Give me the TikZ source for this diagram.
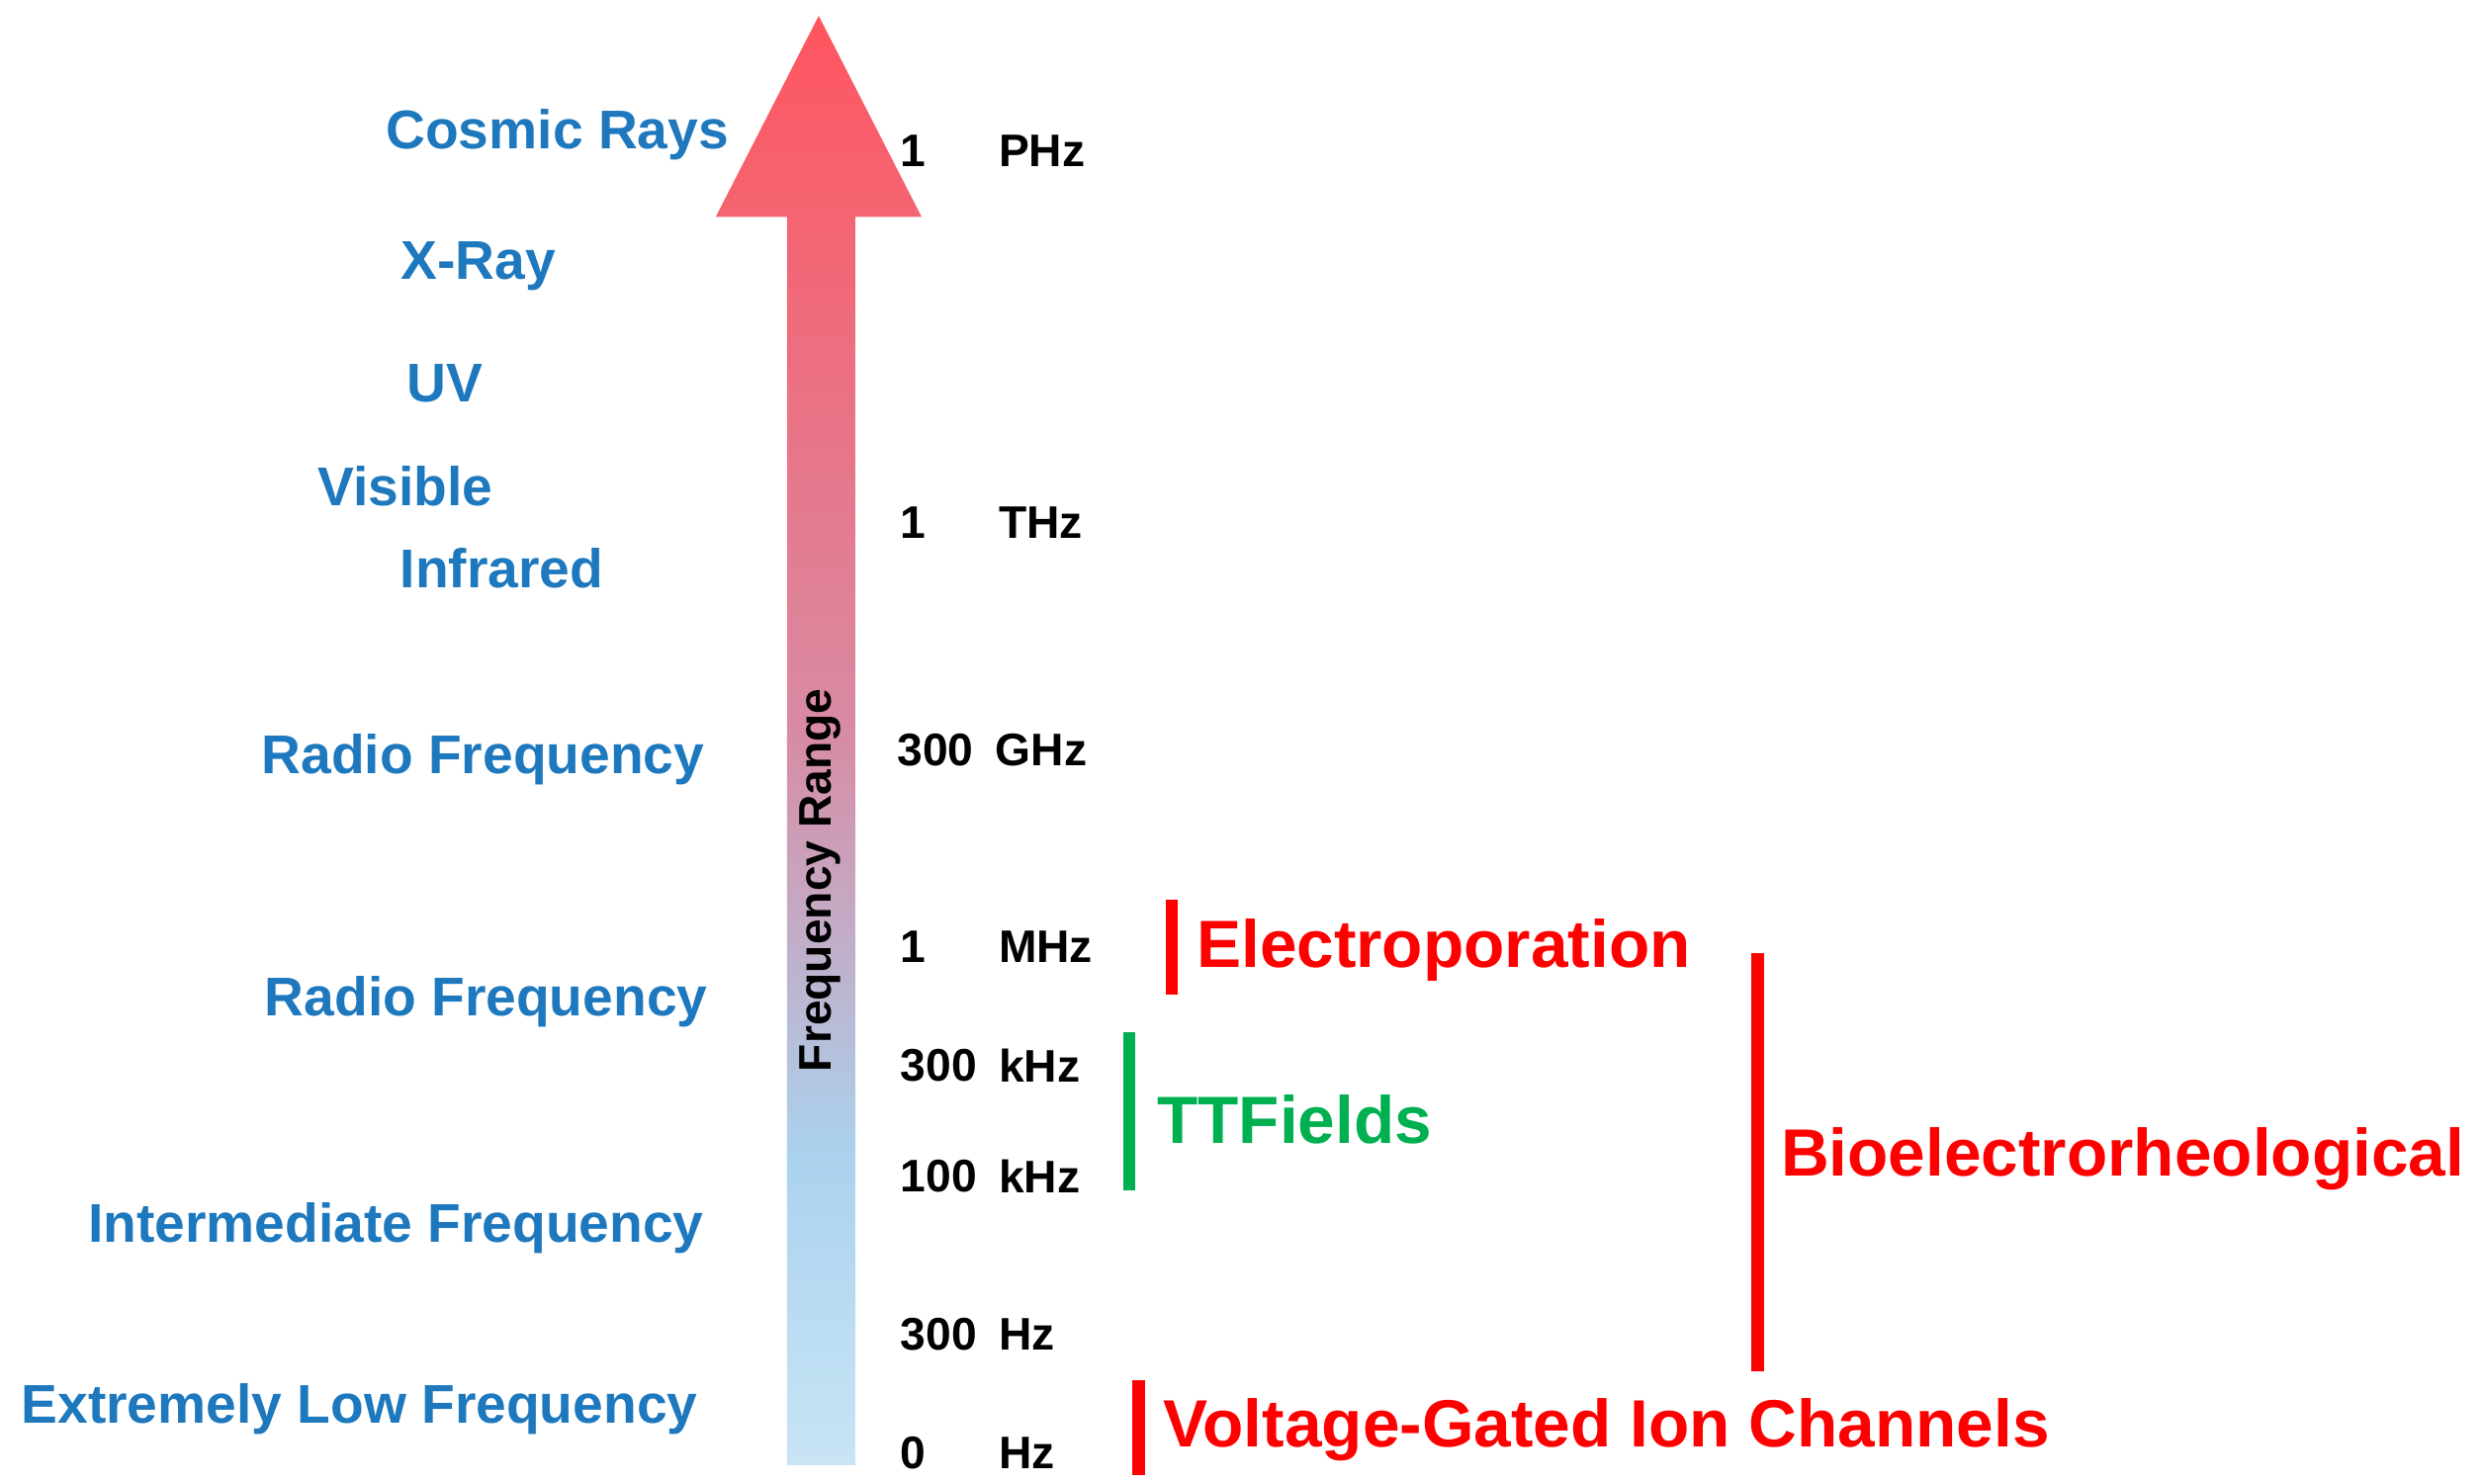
\documentclass[tikz,border=0pt]{standalone}
\usepackage{fontspec}
\setmainfont{Liberation Sans}
\begin{document}
\begin{tikzpicture}[x=0.01cm,y=-0.01cm,
 blu/.style={text=blueT,font=\bfseries\fontsize{9.8}{11}\selectfont,inner sep=0},
 num/.style={font=\bfseries\fontsize{8.2}{10}\selectfont,inner sep=0,anchor=west},
 lab/.style={text=red,font=\bfseries\fontsize{12}{14}\selectfont,inner sep=0,anchor=west},
 bar/.style={line width=2.2pt}]
\definecolor{blueT}{RGB}{30,120,190}
\definecolor{grn}{RGB}{0,176,80}
\useasboundingbox (0,0) rectangle (1568,937);
\shade[top color={rgb,255:red,170;green,210;blue,238}, bottom color={rgb,255:red,200;green,228;blue,245}]
 (497,725) rectangle (540,925);
\shade[top color={rgb,255:red,215;green,140;blue,165}, bottom color={rgb,255:red,170;green,210;blue,238}]
 (497,466) rectangle (540,730);
\shade[top color={rgb,255:red,255;green,85;blue,95}, bottom color={rgb,255:red,215;green,140;blue,165}]
 (497,470) -- (497,137) -- (452,137) -- (517,10) -- (582,137) -- (540,137) -- (540,470) -- cycle;
\node[rotate=90,font=\bfseries\fontsize{8.2}{10}\selectfont,inner sep=0] (fr) at (518,556) {Frequency Range};
\node[blu] (c) at (352,85) {Cosmic Rays};
\node[blu] (x) at (302,168) {X-Ray};
\node[blu] (u) at (281,242) {UV};
\node[blu] (v) at (256,307) {Visible};
\node[blu] (i) at (317,359) {Infrared};
\node[blu] (r1) at (305,480) {Radio Frequency};
\node[blu] (r2) at (307,633) {Radio Frequency};
\node[blu] (if) at (250,776) {Intermediate Frequency};
\node[blu] (el) at (227,890) {Extremely Low Frequency};
\node[num] (n1) at (568,95) {1}; \node[num] (u1) at (630,95) {PHz};
\node[num] (n2) at (568,330) {1}; \node[num] (u2) at (630,330) {THz};
\node[num] (n3) at (566,474) {300}; \node[num] (u3) at (628,474) {GHz};
\node[num] (n4) at (568,598) {1}; \node[num] (u4) at (630,598) {MHz};
\node[num] (n5) at (568,673) {300}; \node[num] (u5) at (630,673) {kHz};
\node[num] (n6) at (568,743) {100}; \node[num] (u6) at (630,743) {kHz};
\node[num] (n7) at (568,843) {300}; \node[num] (u7) at (630,843) {Hz};
\node[num] (n8) at (568,918) {0}; \node[num] (u8) at (630,918) {Hz};
\coordinate (a1) at (740,568); \coordinate (a2) at (740,628);
\draw[bar,draw=red] (a1) -- (a2);
\node[lab] (e) at (755,600) {Electroporation};
\coordinate (b1) at (713,652); \coordinate (b2) at (713,752);
\draw[bar,draw=grn] (b1) -- (b2);
\node[lab,text=grn] (t) at (730,707) {TTFields};
\coordinate (c1) at (1110,602); \coordinate (c2) at (1110,866);
\draw[bar,draw=red] (c1) -- (c2);
\node[lab] (bio) at (1124,732) {Bioelectrorheological};
\coordinate (d1) at (719,872); \coordinate (d2) at (719,932);
\draw[bar,draw=red] (d1) -- (d2);
\node[lab] (vg) at (734,903) {Voltage-Gated Ion Channels};
\end{tikzpicture}
\end{document}
